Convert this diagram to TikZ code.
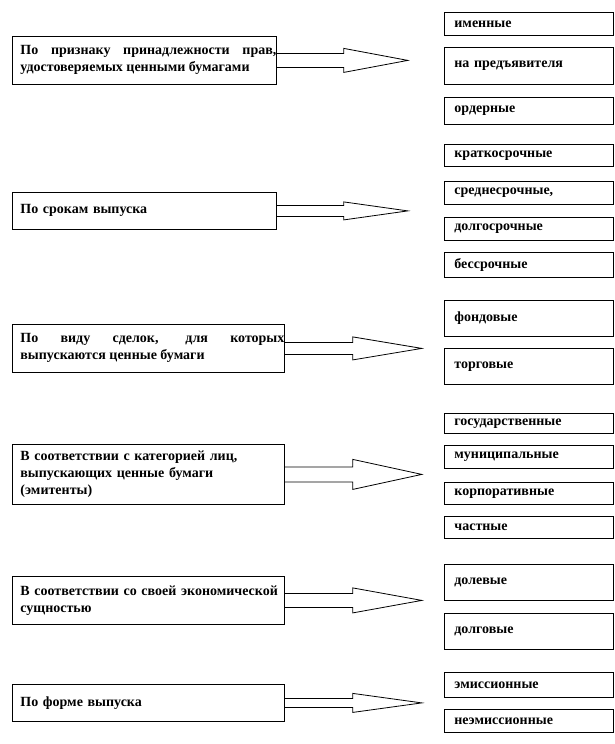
\documentclass[tikz,border=0pt]{standalone}
\usepackage{fontspec}
\setmainfont{Liberation Serif}

\tikzset{
  crit/.style={draw, line width=0.8pt, anchor=north west, inner xsep=0pt, inner ysep=0pt,
    text width=#1, font=\bfseries\fontsize{14pt}{17pt}\selectfont,
    execute at begin node={\leftskip=8pt\relax}},
  kind/.style={draw, line width=0.8pt, anchor=north west, inner xsep=10pt, inner ysep=0pt,
    text width=149pt, align=left, font=\bfseries\fontsize{14pt}{17pt}\selectfont},
  blockarr/.style={line width=0.8pt, line join=miter}
}

\begin{document}
\begin{tikzpicture}[x=1pt,y=-1pt]
  \useasboundingbox (0,0) rectangle (615,744);
  % criteria
  \node[crit=264pt, align=justify, minimum height=48pt] (crit1) at (12,36)
    {По признаку принадлежности прав,\linebreak удостоверяемых ценными бумагами};
  \node[crit=264pt, align=left, minimum height=37pt] (crit2) at (12,192)
    {По срокам выпуска};
  \node[crit=272pt, align=justify, minimum height=48pt] (crit3) at (12,324)
    {По виду сделок, для которых\linebreak выпускаются ценные бумаги};
  \node[crit=272pt, align=left, minimum height=60pt] (crit4) at (12,444)
    {В соответствии с категорией лиц,\\ выпускающих ценные бумаги\\ (эмитенты)};
  \node[crit=272pt, align=left, minimum height=48pt] (crit5) at (12,576)
    {В соответствии со своей экономической\\ сущностью};
  \node[crit=272pt, align=left, minimum height=37pt] (crit6) at (12,684)
    {По форме выпуска};
  % block arrows
  \foreach \c/\shaft/\head/\sw/\hw in {crit1/67/64/7/12, crit2/67/64/5.5/9,
      crit3/68/69/6/11.5, crit4/68/69/7.5/15, crit5/68/69/7/12.5, crit6/68/69/4.5/9.5}
    \draw[blockarr] (\c.east) ++(0,-\sw) -- ++(\shaft,0) -- ++(0,\sw-\hw)
      -- ++(\head,\hw) -- ++(-\head,\hw) -- ++(0,\sw-\hw) -- ++(-\shaft,0);
  % kinds
  \foreach \ytop/\hgt/\txt [count=\i] in {12/23/именные, 47/37/на предъявителя,
      97/27/ордерные, 144/22/краткосрочные, 181/23/{среднесрочные,},
      217/23/долгосрочные, 252/25/бессрочные, 300/36/фондовые, 348/36/торговые,
      413/20/государственные, 445/23/муниципальные, 482/22/корпоративные,
      516/22/частные, 564/36/долевые, 613/36/долговые, 672/25/эмиссионные,
      709/23/неэмиссионные}
    \node[kind, minimum height=\hgt] (kind\i) at (444,\ytop) {\txt};
\end{tikzpicture}
\end{document}
